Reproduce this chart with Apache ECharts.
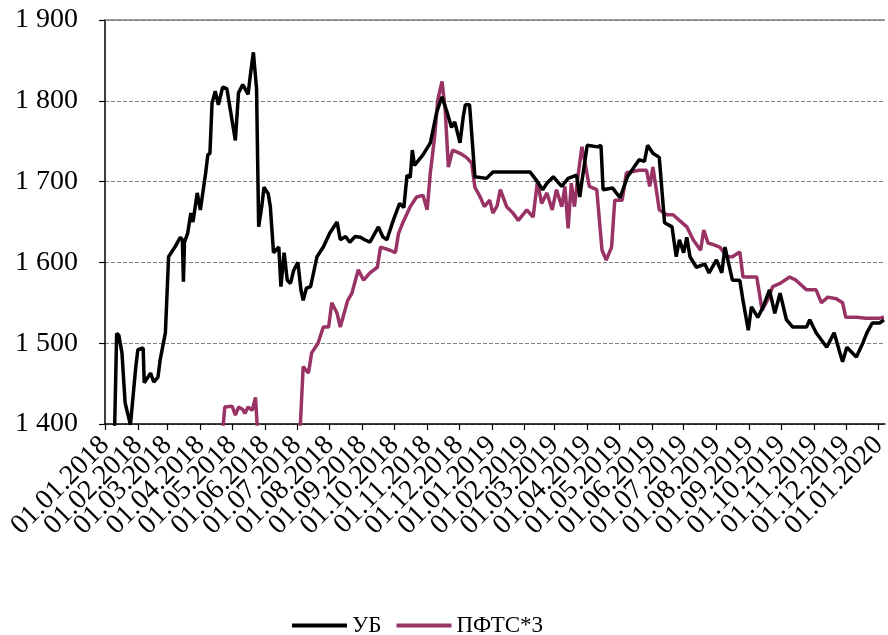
<!DOCTYPE html>
<html>
<head>
<meta charset="utf-8">
<script src="https://cdn.jsdelivr.net/npm/echarts@6/dist/echarts.min.js"></script>
<style>
html,body{margin:0;padding:0;background:#fff;}
#chart{width:888px;height:635px;}
</style>
</head>
<body>
<div id="chart"></div>
<script>
// Series names
const seriesNames = ['УБ', 'ПФТС*3'];

// Tick labels (month starts)
const tickLabels = ['01.01.2018','01.02.2018','01.03.2018','01.04.2018','01.05.2018','01.06.2018','01.07.2018','01.08.2018','01.09.2018','01.10.2018','01.11.2018','01.12.2018',
  '01.01.2019','01.02.2019','01.03.2019','01.04.2019','01.05.2019','01.06.2019','01.07.2019','01.08.2019','01.09.2019','01.10.2019','01.11.2019','01.12.2019','01.01.2020'];

// УБ: dates and values
const ubDates = ['2018-01-10','2018-01-12','2018-01-14','2018-01-17','2018-01-20','2018-01-25','2018-01-30','2018-02-01','2018-02-06','2018-02-07','2018-02-13','2018-02-16','2018-02-20','2018-02-22','2018-02-27',
  '2018-03-02','2018-03-08','2018-03-13','2018-03-15','2018-03-16','2018-03-17','2018-03-20','2018-03-23','2018-03-25','2018-03-29','2018-04-01','2018-04-06','2018-04-08','2018-04-10','2018-04-12','2018-04-15','2018-04-18','2018-04-22','2018-04-26',
  '2018-05-04','2018-05-07','2018-05-11','2018-05-16','2018-05-18','2018-05-21','2018-05-24','2018-05-26','2018-05-29','2018-05-31','2018-06-04','2018-06-06','2018-06-09','2018-06-14','2018-06-16','2018-06-19','2018-06-22','2018-06-25','2018-06-28',
  '2018-07-02','2018-07-05','2018-07-07','2018-07-10','2018-07-14','2018-07-20','2018-07-26','2018-08-01','2018-08-08','2018-08-11','2018-08-16','2018-08-20','2018-08-25','2018-08-30',
  '2018-09-03','2018-09-08','2018-09-16','2018-09-20','2018-09-24','2018-09-30','2018-10-06','2018-10-10','2018-10-13','2018-10-16','2018-10-18','2018-10-20','2018-10-28',
  '2018-11-04','2018-11-10','2018-11-15','2018-11-20','2018-11-24','2018-11-27','2018-12-02','2018-12-05','2018-12-07','2018-12-11','2018-12-13','2018-12-16','2018-12-27',
  '2019-01-02','2019-02-06','2019-02-13','2019-02-18','2019-02-22','2019-02-28','2019-03-04','2019-03-08','2019-03-14','2019-03-22','2019-03-25','2019-03-27',
  '2019-04-01','2019-04-11','2019-04-14','2019-04-16','2019-04-25','2019-05-02','2019-05-09','2019-05-20','2019-05-25','2019-05-28','2019-06-02','2019-06-08','2019-06-13','2019-06-20','2019-06-24','2019-06-27',
  '2019-07-01','2019-07-04','2019-07-07','2019-07-13','2019-07-21','2019-07-25','2019-08-01','2019-08-06','2019-08-09','2019-08-16','2019-08-23','2019-08-26','2019-08-31',
  '2019-09-03','2019-09-09','2019-09-14','2019-09-20','2019-09-25','2019-09-30','2019-10-06','2019-10-12','2019-10-25','2019-10-28',
  '2019-11-03','2019-11-13','2019-11-20','2019-11-25','2019-11-28','2019-12-02','2019-12-11','2019-12-17','2019-12-21','2019-12-26','2020-01-02','2020-01-06'];
const ubValues = [1390,1512,1510,1488,1426,1399,1470,1492,1494,1451,1463,1452,1458,1479,1513,
  1607,1619,1631,1628,1576,1625,1636,1661,1650,1686,1665,1711,1733,1735,1797,1812,1795,1817,1815,
  1751,1810,1820,1808,1830,1860,1815,1644,1670,1693,1685,1669,1612,1619,1570,1612,1578,1574,1590,
  1600,1565,1553,1568,1570,1607,1619,1636,1650,1628,1632,1625,1632,1631,
  1628,1625,1644,1632,1628,1652,1673,1668,1708,1705,1739,1720,1733,
  1748,1786,1805,1785,1767,1774,1748,1780,1795,1795,1760,1706,1704,
  1712,1712,1700,1690,1698,1706,1700,1694,1704,1708,1681,1700,
  1745,1743,1745,1690,1692,1680,1706,1727,1725,1745,1735,1730,1649,1644,1607,1628,
  1612,1631,1607,1594,1598,1587,1603,1587,1619,1578,1578,1553,1516,
  1545,1532,1545,1566,1537,1562,1529,1520,1520,1529,
  1513,1495,1513,1490,1477,1495,1483,1500,1513,1525,1525,1529];

// ПФТС*3: dates and values (null = gap)
const pftsDates = ['2018-04-22','2018-04-24','2018-05-01','2018-05-04','2018-05-07','2018-05-11','2018-05-13','2018-05-16','2018-05-20','2018-05-23','2018-05-25','2018-06-20',
  '2018-07-04','2018-07-07','2018-07-12','2018-07-15','2018-07-21','2018-07-26','2018-07-31','2018-08-03','2018-08-08','2018-08-11','2018-08-18','2018-08-22','2018-08-28',
  '2018-09-02','2018-09-08','2018-09-15','2018-09-18','2018-09-27','2018-10-02','2018-10-05','2018-10-09','2018-10-16','2018-10-22','2018-10-28',
  '2018-11-01','2018-11-04','2018-11-08','2018-11-11','2018-11-15','2018-11-18','2018-11-21','2018-11-25','2018-12-02','2018-12-08','2018-12-13','2018-12-16','2018-12-21','2018-12-25','2018-12-30',
  '2019-01-02','2019-01-06','2019-01-09','2019-01-15','2019-01-21','2019-01-26','2019-02-03','2019-02-09','2019-02-13','2019-02-17','2019-02-22','2019-02-27',
  '2019-03-03','2019-03-08','2019-03-11','2019-03-14','2019-03-17','2019-03-20','2019-03-23','2019-03-27','2019-03-30',
  '2019-04-03','2019-04-10','2019-04-15','2019-04-19','2019-04-24','2019-04-27','2019-05-04','2019-05-08','2019-05-20','2019-05-27','2019-05-30',
  '2019-06-02','2019-06-08','2019-06-15','2019-06-21','2019-06-27','2019-07-04','2019-07-10','2019-07-17','2019-07-20','2019-07-24','2019-07-29',
  '2019-08-04','2019-08-11','2019-08-16','2019-08-23','2019-08-26','2019-09-08','2019-09-13','2019-09-18','2019-09-23','2019-09-30',
  '2019-10-09','2019-10-15','2019-10-25','2019-11-03','2019-11-08','2019-11-14','2019-11-22','2019-11-28','2019-12-01','2019-12-11','2019-12-20','2020-01-02','2020-01-06'];
const pftsValues = [1390,1421,1422,1411,1421,1418,1413,1421,1417,1433,1390,null,
  1390,1471,1463,1488,1500,1520,1520,1550,1537,1520,1553,1562,1591,
  1578,1587,1594,1619,1615,1612,1636,1649,1669,1681,1683,
  1665,1711,1755,1801,1824,1789,1718,1739,1735,1730,1723,1693,1681,1669,1677,
  1661,1670,1690,1669,1661,1652,1665,1656,1700,1673,1686,1665,
  1690,1669,1694,1642,1698,1669,1704,1743,1723,
  1694,1690,1615,1603,1619,1677,1677,1711,1714,1714,1694,
  1718,1665,1659,1659,1652,1644,1628,1615,1640,1624,1622,
  1619,1607,1607,1613,1582,1582,1541,1553,1570,1574,
  1582,1578,1566,1566,1550,1557,1555,1550,1532,1532,1531,1531,1532];

function toTs(s) {
  const p = s.split('-').map(Number);
  return new Date(p[0], p[1] - 1, p[2]).getTime();
}
function labelTs(s) {
  const p = s.split('.').map(Number);
  return new Date(p[2], p[1] - 1, p[0]).getTime();
}
const tickValues = tickLabels.map(labelTs);
const ubData = ubDates.map((d, i) => [toTs(d), ubValues[i]]);
const pftsData = pftsDates.map((d, i) => [toTs(d), pftsValues[i]]);

function pad(n) { return (n < 10 ? '0' : '') + n; }
const FONT = 'Liberation Serif';
const X_MIN = toTs('2018-01-01');
const X_MAX = toTs('2020-01-07');

// Labels are split over 4 overlaid axes so that none of them is dropped by overlap handling
const GROUPS = 4;
const xAxes = [];
for (let k = 0; k < GROUPS; k++) {
  const vals = tickValues.filter((v, i) => i % GROUPS === k);
  xAxes.push({
    type: 'value',
    position: 'bottom',
    offset: 0,
    min: X_MIN,
    max: X_MAX,
    axisLine: {show: k === 0, onZero: false, lineStyle: {color: '#000', width: 1.5}},
    axisTick: {show: k === 0, inside: false, length: 6, lineStyle: {color: '#000', width: 1.2}, customValues: tickValues},
    splitLine: {show: false},
    axisLabel: {
      customValues: vals,
      rotate: 45,
      margin: 17,
      fontFamily: FONT,
      fontSize: 28,
      color: '#000',
      hideOverlap: false,
      showMinLabel: true,
      showMaxLabel: true,
      formatter: function (v) {
        const d = new Date(v);
        return pad(d.getDate()) + '.' + pad(d.getMonth() + 1) + '.' + d.getFullYear();
      }
    }
  });
}

const chart = echarts.init(document.getElementById('chart'), null, {renderer: 'canvas'});
chart.setOption({
  animation: false,
  backgroundColor: '#ffffff',
  grid: {left: 105, right: 3, top: 20, bottom: 211, containLabel: false, outerBoundsMode: 'none'},
  legend: {
    top: 609,
    left: 287,
    itemWidth: 55,
    itemHeight: 4,
    itemGap: 15,
    icon: 'rect',
    textStyle: {fontFamily: FONT, fontSize: 23, color: '#000'},
    data: seriesNames
  },
  xAxis: xAxes,
  yAxis: {
    type: 'value',
    min: 1400,
    max: 1900,
    interval: 100,
    axisLine: {show: true, lineStyle: {color: '#000', width: 1.5}},
    axisTick: {show: true, inside: false, length: 6, lineStyle: {color: '#000', width: 1.2}},
    splitLine: {show: true, lineStyle: {color: '#808080', width: 1, type: [4, 2]}},
    axisLabel: {
      margin: 27,
      fontFamily: FONT,
      fontSize: 28,
      color: '#000',
      formatter: function (v) {
        const s = String(v);
        return s.length > 3 ? s.slice(0, s.length - 3) + ' ' + s.slice(-3) : s;
      }
    }
  },
  series: [
    {
      name: seriesNames[0],
      type: 'line',
      xAxisIndex: 0,
      data: ubData,
      showSymbol: false,
      symbol: 'none',
      connectNulls: false,
      lineStyle: {color: '#000000', width: 3.5},
      itemStyle: {color: '#000000'},
      z: 3,
      markLine: {
        silent: true,
        symbol: 'none',
        label: {show: false},
        lineStyle: {color: '#7f7f7f', width: 1.5, type: 'solid'},
        data: [{yAxis: 1900}]
      }
    },
    {
      name: seriesNames[1],
      type: 'line',
      xAxisIndex: 0,
      data: pftsData,
      showSymbol: false,
      symbol: 'none',
      connectNulls: false,
      lineStyle: {color: '#993366', width: 3.5},
      itemStyle: {color: '#993366'},
      z: 2
    }
  ]
});
</script>
</body>
</html>
